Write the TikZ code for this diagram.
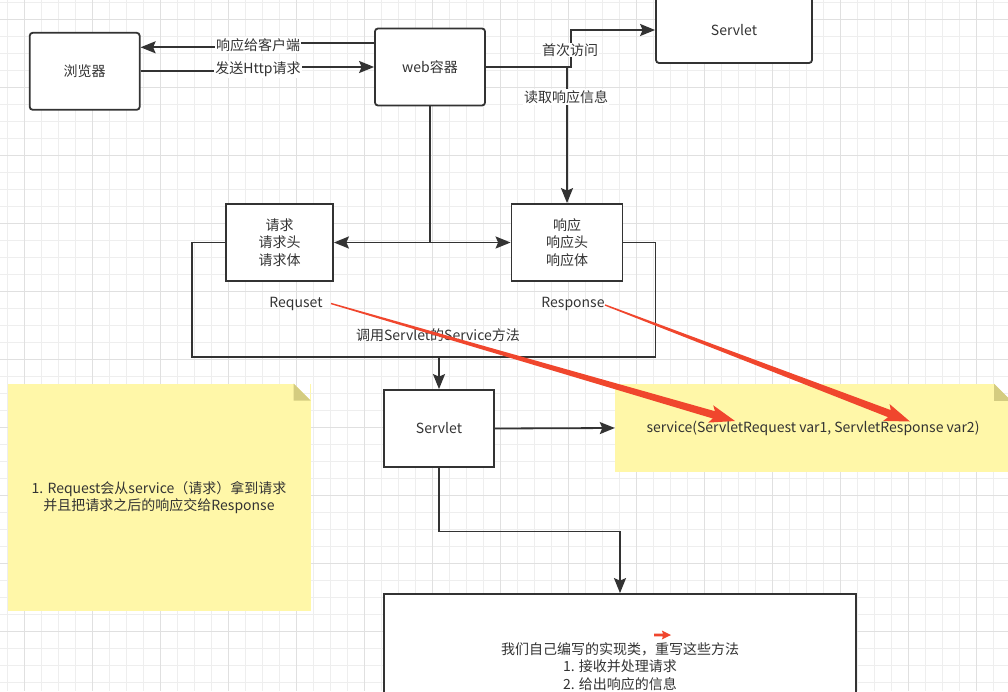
\documentclass[tikz,border=0pt]{standalone}
\usepackage{fontspec}
\setmainfont{Noto Sans CJK SC}
\usetikzlibrary{arrows.meta,calc}

\definecolor{inkgray}{HTML}{333333}
\definecolor{notey}{HTML}{FFF7A8}
\definecolor{notefoldc}{HTML}{D4CC80}
\definecolor{markred}{HTML}{F0462D}
\definecolor{gridgray}{HTML}{EEEEEE}
\definecolor{gridgraydark}{HTML}{E0E0E0}

\newcommand{\diafont}{\fontsize{14}{17.4}\selectfont}

\tikzset{
    >={Stealth[length=15pt,width=12pt,inset=2.5pt]},
    box/.style={draw=inkgray, line width=1.8pt, fill=white, text=inkgray,
        font=\diafont, align=center, inner sep=0pt},
    rbox/.style={box, rounded corners=3pt},
    link/.style={draw=inkgray, line width=1.8pt},
    lbl/.style={fill=white, text=inkgray, font=\diafont, inner sep=1pt},
    txt/.style={text=inkgray, font=\diafont, inner sep=0pt},
    notebox/.style={fill=notey, text=inkgray, font=\diafont, align=center, inner sep=0pt},
    gridline/.style={draw=gridgray, line width=0.9pt},
    gridbold/.style={draw=gridgraydark, line width=0.9pt}
}

% background grid of the canvas
\newcommand{\bggrid}{%
    \foreach \k in {0,...,59} {\draw[gridline] ({7+17*\k},0) -- ({7+17*\k},691);}
    \foreach \k in {0,...,40} {\draw[gridline] (0,{2+17*\k}) -- (1008,{2+17*\k});}
    \foreach \k in {1,5,...,57} {\draw[gridbold] ({7+17*\k},0) -- ({7+17*\k},691);}
    \foreach \k in {1,5,...,37} {\draw[gridbold] (0,{2+17*\k}) -- (1008,{2+17*\k});}
}

% folded corner of a note
\newcommand{\notefold}[1]{%
    \begin{scope}
        \clip ([xshift=-17pt]#1.north east) -- (#1.north east) -- ([yshift=-17pt]#1.north east) -- cycle;
        \fill[white] (#1.north east) rectangle ++(-17,17);
        \bggrid
    \end{scope}
    \fill[notefoldc] ([xshift=-17pt]#1.north east) -- ([xshift=-17pt,yshift=-17pt]#1.north east)
        -- ([yshift=-17pt]#1.north east) -- cycle;
}

% red marker arrow: tail, tip, head length, head half width, tail half width, neck half width
\newcommand{\taperarrow}[6]{%
    \pgfmathsetmacro\barbback{1.15*#3}
    \coordinate (#1-neck) at ($(#2)!#3pt!(#1)$);
    \coordinate (#1-barb) at ($(#2)!\barbback pt!(#1)$);
    \fill[markred] ($(#1)!#5pt!90:(#2)$) -- ($(#1-neck)!#6pt!90:(#2)$)
        -- ($(#1-barb)!#4pt!90:(#2)$) -- (#2) -- ($(#1-barb)!#4pt!-90:(#2)$)
        -- ($(#1-neck)!#6pt!-90:(#2)$) -- ($(#1)!#5pt!-90:(#2)$) -- cycle;
}

\begin{document}
\begin{tikzpicture}[x=1pt,y=-1pt]
    \useasboundingbox (0,0) rectangle (1008,691);

    % Grid
    \bggrid

    % Notes
    \node[notebox, minimum width=303pt, minimum height=227pt] (leftNote) at (159,497.3)
        {1. Request会从service（请求）拿到请求\\并且把请求之后的响应交给Response};
    \notefold{leftNote}
    \node[notebox, minimum width=396pt, minimum height=88pt] (svcNote) at (813,428)
        {service(ServletRequest var1, ServletResponse var2)};
    \notefold{svcNote}

    % Boxes
    \node[rbox, minimum width=110pt, minimum height=77pt] (browser) at (84.7,71.3) {浏览器};
    \node[rbox, minimum width=110pt, minimum height=77pt] (web) at (430,67) {web容器};
    \node[rbox, minimum width=156pt, minimum height=66pt] (servletTop) at (734,30) {Servlet};
    \node[box, minimum width=107pt, minimum height=77pt] (request) at (279.5,242.5) {请求\\请求头\\请求体};
    \node[box, minimum width=111pt, minimum height=77pt] (response) at (567,242.5) {响应\\响应头\\响应体};
    \node[box, minimum width=110pt, minimum height=77pt] (servletMid) at (439,428.5) {Servlet};
    \node[box, minimum width=472pt, minimum height=145pt] (implBox) at (620,666.5)
        {我们自己编写的实现类，重写这些方法\\1. 接收并处理请求\\2. 给出响应的信息};

    % Browser and web container
    \coordinate (replyMid) at (258,45);
    \coordinate (sendMid) at (258,69.5);
    \draw[link,->] ([yshift=24pt]web.west) -| (replyMid) |- ([yshift=24pt]browser.east);
    \draw[link,->] (browser.east) -| (sendMid) |- (web.west);
    \node[lbl] (replyLab) at (replyMid) {响应给客户端};
    \node[lbl] (sendLab) at (sendMid) {发送Http请求};

    % Web container and servlet
    \draw[link,->] (web.east) -- ++(85,0) |- (servletTop.west);
    \draw[link,->] (response.north |- web.east) -- (response.north);
    \node[lbl] (firstLab) at (570,50) {首次访问};
    \node[lbl] (readLab) at (566,97) {读取响应信息};

    % Request and response
    \coordinate (fork) at (web.south |- request.east);
    \draw[link] (web.south) -- (fork);
    \draw[link,->] (fork) -- (request.east);
    \draw[link,->] (fork) -- (response.west);

    \coordinate (callBot) at (servletMid.north |- 0,357);
    \draw[link] (request.west) -- ++(-33,0) |- (callBot) -| ([xshift=32pt]response.east) -- (response.east);
    \draw[link,->] (callBot) -- (servletMid.north);
    \node[txt] (callLab) at (438,335) {调用Servlet的Service方法};
    \node[txt] (reqLab) at (296,304) {Requset};
    \node[txt] (respLab) at (573,304) {Response};

    % Servlet to method and implementation
    \draw[link,->] (servletMid.east) -- (svcNote.west);
    \draw[link,->] (servletMid.south) -- ++(0,63.5) -| (implBox.north);

    % Red marks
    \coordinate (reqTail) at (331,303.5);
    \coordinate (reqTip) at (735,421);
    \coordinate (respTail) at (605,305);
    \coordinate (respTip) at (910,421.5);
    \coordinate (markTail) at (654,635);
    \coordinate (markTip) at (671,635);
    \taperarrow{reqTail}{reqTip}{22}{9}{0.7}{3.8}
    \taperarrow{respTail}{respTip}{22}{9}{0.7}{3.8}
    \taperarrow{markTail}{markTip}{8}{4.5}{1.3}{1.5}

\end{tikzpicture}
\end{document}
